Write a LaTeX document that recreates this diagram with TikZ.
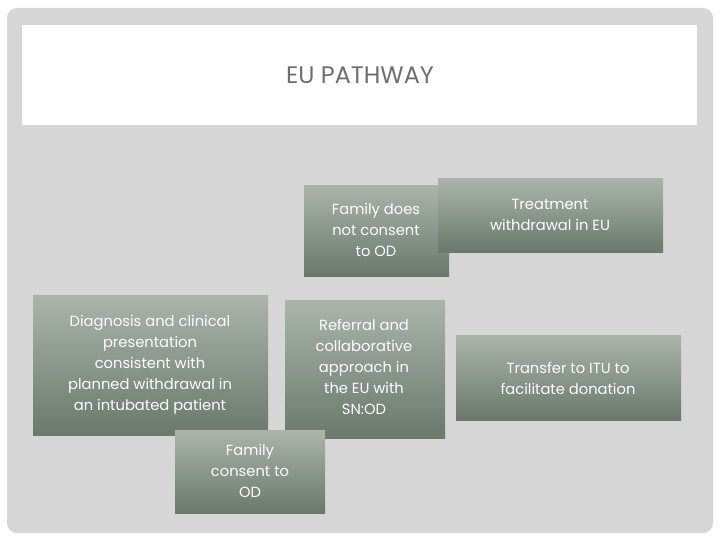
\documentclass[tikz,border=0pt]{standalone}
\usepackage{fontspec}
\setmainfont{Poppins}[Scale=0.92]
\usetikzlibrary{shadows}
\definecolor{btop}{HTML}{AAB4AB}
\definecolor{bbot}{HTML}{6A796C}
\tikzset{
 stepbox/.style={anchor=north west, inner sep=0pt, top color=btop, bottom color=bbot, draw=none,
   text=white, align=center, font=\fontsize{16}{19}\selectfont\addfontfeatures{LetterSpace=1}},
}
\begin{document}
\begin{tikzpicture}[x=1pt,y=-1pt]
\useasboundingbox (0,0) rectangle (720,540);
\fill[white] (0,0) rectangle (720,540);
\fill[rounded corners=10pt, fill={rgb,255:red,214;green,214;blue,214}] (7,8) rectangle (713,533);
\fill[white] (22,25) rectangle (697,125);
\node[draw=none, text={rgb,255:red,110;green,110;blue,110}, font=\fontsize{26}{30}\selectfont\addfontfeatures{LetterSpace=4}\rmfamily] (title) at (360,75) {EU PATHWAY};
\node[stepbox, minimum width=145pt, minimum height=91pt] (fnc) at (304,185) {};
\node[text=white, align=center, font=\fontsize{16}{21}\selectfont] (fnct) at (376,230) {Family does\\not consent\\to OD};
\node[stepbox, minimum width=225pt, minimum height=74pt] (tw) at (438,178) {};
\node[text=white, align=center, font=\fontsize{16}{21}\selectfont] (twt) at (550,215) {Treatment\\withdrawal in EU};
\node[stepbox, minimum width=235pt, minimum height=140pt] (diag) at (33,295) {};
\node[text=white, align=center, font=\fontsize{16}{21}\selectfont] (diagt) at (150,365) {Diagnosis and clinical\\presentation\\consistent with\\planned withdrawal in\\an intubated patient};
\node[stepbox, minimum width=160pt, minimum height=138pt] (ref) at (285,300) {};
\node[text=white, align=center, font=\fontsize{16}{21}\selectfont] (reft) at (364,367) {Referral and\\collaborative\\approach in\\the EU with\\SN:OD};
\node[stepbox, minimum width=150pt, minimum height=83pt] (fc) at (175,430) {};
\node[text=white, align=center, font=\fontsize{16}{21}\selectfont] (fct) at (250,471) {Family\\consent to\\OD};
\node[stepbox, minimum width=225pt, minimum height=85pt] (itu) at (456,335) {};
\node[text=white, align=center, font=\fontsize{16}{21}\selectfont] (itut) at (568,378) {Transfer to ITU to\\facilitate donation};
\end{tikzpicture}
\end{document}
